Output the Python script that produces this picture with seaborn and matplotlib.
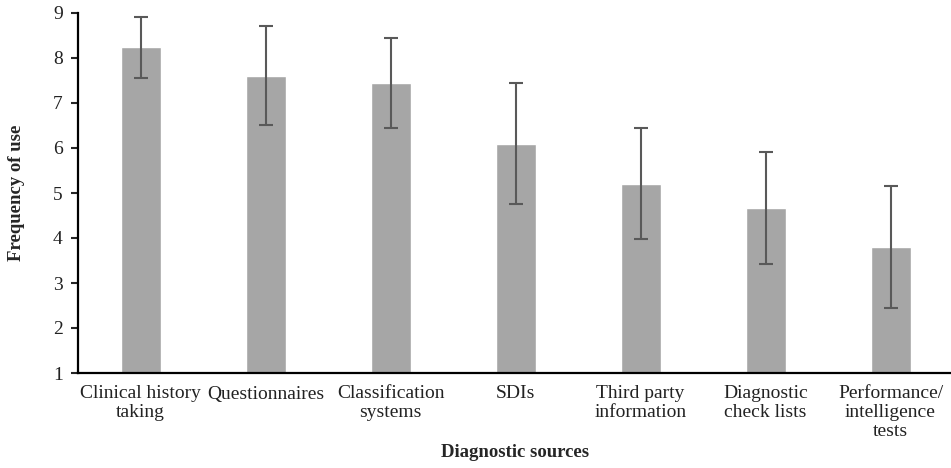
import pandas as pd
import seaborn as sns
import matplotlib.pyplot as plt

# Data
sources = ['Clinical history\ntaking', 'Questionnaires', 'Classification\nsystems', 'SDIs',
           'Third party\ninformation', 'Diagnostic\ncheck lists', 'Performance/\nintelligence\ntests']
means = [8.24, 7.60, 7.45, 6.10, 5.21, 4.67, 3.80]
errors = [0.68, 1.10, 1.00, 1.34, 1.24, 1.25, 1.36]

df = pd.DataFrame({'source': sources, 'mean': means, 'err': errors})

sns.set_style('white')
plt.rcParams['font.family'] = ['Liberation Serif', 'DejaVu Serif']

fig = plt.figure(figsize=(9.51, 4.68), dpi=100)
ax = fig.add_axes([78 / 951, 95 / 468, 875 / 951, 360 / 468])

sns.barplot(data=df, x='source', y='mean', color='#a6a6a6', saturation=1,
            width=0.32, errorbar=None, ax=ax)
ax.errorbar(x=range(len(df)), y=df['mean'], yerr=df['err'], fmt='none',
            ecolor='#595959', elinewidth=1.5, capsize=5, capthick=1.5)

ax.set_ylim(1, 9)
ax.set_xlim(-0.5, len(df) - 0.5)
ax.set_yticks(range(1, 10))
ax.set_xlabel('Diagnostic sources', fontsize=13.5, fontweight='bold', labelpad=3)
ax.set_ylabel('Frequency of use', fontsize=13.5, fontweight='bold', labelpad=20)
ax.tick_params(axis='y', length=5, width=1.5, direction='out', left=True, labelsize=14, pad=6)
ax.tick_params(axis='x', length=0, labelsize=14, pad=9)
for lbl in ax.get_yticklabels() + ax.get_xticklabels():
    lbl.set_color('#222222')
    lbl.set_linespacing(1.12)

sns.despine(ax=ax)
for s in ['left', 'bottom']:
    ax.spines[s].set_color('black')
    ax.spines[s].set_linewidth(1.6)

fig.savefig('out.png', dpi=100)
